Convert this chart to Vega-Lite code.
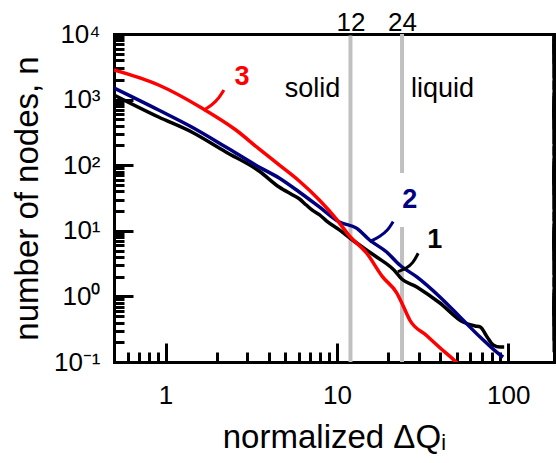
{
  "$schema": "https://vega.github.io/schema/vega-lite/v6.json",
  "width": 440,
  "height": 328,
  "autosize": "none",
  "padding": {"left": 114, "top": 34, "right": 2, "bottom": 101},
  "background": "white",
  "config": {
    "view": {"stroke": null},
    "font": "Liberation Sans",
    "axis": {
      "grid": false,
      "tickColor": "black",
      "tickWidth": 3,
      "domainColor": "black",
      "domainWidth": 3,
      "domainCap": "square",
      "labelFont": "Liberation Sans",
      "labelFontSize": 26,
      "labelColor": "black",
      "labelFlush": false,
      "labelOverlap": false,
      "labelBound": false,
      "titleFont": "Liberation Sans",
      "titleFontSize": 33,
      "titleFontWeight": "normal",
      "titleColor": "black"
    }
  },
  "datasets": {
    "curves": [
      {"s": "1", "x": 0.5, "y": 1175}, {"s": "1", "x": 0.91, "y": 543}, {"s": "1", "x": 1.42, "y": 321},
      {"s": "1", "x": 2.248, "y": 158.9}, {"s": "1", "x": 3.512, "y": 81.6}, {"s": "1", "x": 4.601, "y": 46.5},
      {"s": "1", "x": 5.483, "y": 35.5}, {"s": "1", "x": 6.028, "y": 30.8}, {"s": "1", "x": 6.625, "y": 24.7},
      {"s": "1", "x": 7.182, "y": 20.6}, {"s": "1", "x": 7.896, "y": 17.6}, {"s": "1", "x": 8.679, "y": 14.2},
      {"s": "1", "x": 10.34, "y": 10.3}, {"s": "1", "x": 12.33, "y": 7.24}, {"s": "1", "x": 14.89, "y": 5.1},
      {"s": "1", "x": 17.05, "y": 3.99}, {"s": "1", "x": 22.34, "y": 2.27}, {"s": "1", "x": 23.26, "y": 1.98},
      {"s": "1", "x": 29.27, "y": 1.39}, {"s": "1", "x": 39.93, "y": 0.793}, {"s": "1", "x": 54.47, "y": 0.407},
      {"s": "1", "x": 64.06, "y": 0.354}, {"s": "1", "x": 68.53, "y": 0.342}, {"s": "1", "x": 75.34, "y": 0.24},
      {"s": "1", "x": 81.66, "y": 0.182}, {"s": "1", "x": 89.8, "y": 0.169}, {"s": "1", "x": 94.7, "y": 0.169},
      {"s": "2", "x": 0.5, "y": 1502}, {"s": "2", "x": 0.91, "y": 694}, {"s": "2", "x": 1.42, "y": 382},
      {"s": "2", "x": 2.248, "y": 189.4}, {"s": "2", "x": 3.512, "y": 93.9}, {"s": "2", "x": 4.601, "y": 63.8},
      {"s": "2", "x": 6.028, "y": 39.0}, {"s": "2", "x": 7.896, "y": 23.1}, {"s": "2", "x": 10.34, "y": 13.6},
      {"s": "2", "x": 13.01, "y": 11.0}, {"s": "2", "x": 15.51, "y": 7.24}, {"s": "2", "x": 19.51, "y": 4.75},
      {"s": "2", "x": 23.26, "y": 3.01}, {"s": "2", "x": 29.27, "y": 1.98}, {"s": "2", "x": 39.93, "y": 0.979},
      {"s": "2", "x": 52.31, "y": 0.485}, {"s": "2", "x": 68.53, "y": 0.24}, {"s": "2", "x": 89.8, "y": 0.128},
      {"s": "2", "x": 93.5, "y": 0.119},
      {"s": "3", "x": 0.5, "y": 2827}, {"s": "3", "x": 0.91, "y": 1670}, {"s": "3", "x": 1.626, "y": 745},
      {"s": "3", "x": 2.574, "y": 344}, {"s": "3", "x": 3.512, "y": 177}, {"s": "3", "x": 4.601, "y": 101},
      {"s": "3", "x": 6.028, "y": 57.4}, {"s": "3", "x": 7.896, "y": 29.5}, {"s": "3", "x": 9.933, "y": 15.1},
      {"s": "3", "x": 11.84, "y": 8.33}, {"s": "3", "x": 14.89, "y": 4.59}, {"s": "3", "x": 18.49, "y": 1.98},
      {"s": "3", "x": 22.34, "y": 1.13}, {"s": "3", "x": 24.23, "y": 0.74}, {"s": "3", "x": 26.62, "y": 0.437},
      {"s": "3", "x": 33.49, "y": 0.252}, {"s": "3", "x": 39.93, "y": 0.165}, {"s": "3", "x": 50.23, "y": 0.0966},
      {"s": "3", "x": 55.96, "y": 0.0704}
    ],
    "leaders": [
      {"s": "3", "x": 1.671, "y": 694}, {"s": "3", "x": 1.868, "y": 828}, {"s": "3", "x": 2.046, "y": 1047}, {"s": "3", "x": 2.189, "y": 1401},
      {"s": "2", "x": 15.5, "y": 6.82}, {"s": "2", "x": 17.8, "y": 8.13}, {"s": "2", "x": 19.9, "y": 10.3}, {"s": "2", "x": 21.3, "y": 13.8},
      {"s": "1", "x": 22.7, "y": 2.38}, {"s": "1", "x": 25.5, "y": 2.68}, {"s": "1", "x": 27.8, "y": 3.2}, {"s": "1", "x": 29.8, "y": 4.54}
    ],
    "numlabels": [
      {"s": "3", "x": 2.79, "y": 2213},
      {"s": "2", "x": 26.6, "y": 29.5},
      {"s": "1", "x": 37.3, "y": 7.24}
    ],
    "phases": [
      {"t": "solid", "x": 7.2, "y": 1084},
      {"t": "liquid", "x": 41.3, "y": 1084}
    ],
    "rules": [
      {"x": 12, "y": 0.1, "y2": 10000},
      {"x": 24, "y": 76, "y2": 10000},
      {"x": 24, "y": 0.1, "y2": 11.4}
    ],
    "xticks": [
      {"v": 0.6, "m": "minor"}, {"v": 0.7, "m": "minor"}, {"v": 0.8, "m": "minor"}, {"v": 0.9, "m": "minor"},
      {"v": 1, "m": "major"},
      {"v": 2, "m": "minor"}, {"v": 3, "m": "minor"}, {"v": 4, "m": "minor"}, {"v": 5, "m": "minor"},
      {"v": 6, "m": "minor"}, {"v": 7, "m": "minor"}, {"v": 8, "m": "minor"}, {"v": 9, "m": "minor"},
      {"v": 10, "m": "major"},
      {"v": 20, "m": "minor"}, {"v": 30, "m": "minor"}, {"v": 40, "m": "minor"}, {"v": 50, "m": "minor"},
      {"v": 60, "m": "minor"}, {"v": 70, "m": "minor"}, {"v": 80, "m": "minor"}, {"v": 90, "m": "minor"},
      {"v": 100, "m": "major"}
    ],
    "yticks": [
      {"v": 0.2, "m": "minor"}, {"v": 0.3, "m": "minor"}, {"v": 0.4, "m": "minor"}, {"v": 0.5, "m": "minor"},
      {"v": 0.6, "m": "minor"}, {"v": 0.7, "m": "minor"}, {"v": 0.8, "m": "minor"}, {"v": 0.9, "m": "minor"},
      {"v": 1, "m": "major"},
      {"v": 2, "m": "minor"}, {"v": 3, "m": "minor"}, {"v": 4, "m": "minor"}, {"v": 5, "m": "minor"},
      {"v": 6, "m": "minor"}, {"v": 7, "m": "minor"}, {"v": 8, "m": "minor"}, {"v": 9, "m": "minor"},
      {"v": 10, "m": "major"},
      {"v": 20, "m": "minor"}, {"v": 30, "m": "minor"}, {"v": 40, "m": "minor"}, {"v": 50, "m": "minor"},
      {"v": 60, "m": "minor"}, {"v": 70, "m": "minor"}, {"v": 80, "m": "minor"}, {"v": 90, "m": "minor"},
      {"v": 100, "m": "major"},
      {"v": 200, "m": "minor"}, {"v": 300, "m": "minor"}, {"v": 400, "m": "minor"}, {"v": 500, "m": "minor"},
      {"v": 600, "m": "minor"}, {"v": 700, "m": "minor"}, {"v": 800, "m": "minor"}, {"v": 900, "m": "minor"},
      {"v": 1000, "m": "major"},
      {"v": 2000, "m": "minor"}, {"v": 3000, "m": "minor"}, {"v": 4000, "m": "minor"}, {"v": 5000, "m": "minor"},
      {"v": 6000, "m": "minor"}, {"v": 7000, "m": "minor"}, {"v": 8000, "m": "minor"}, {"v": 9000, "m": "minor"}
    ]
  },
  "resolve": {"axis": {"x": "independent", "y": "independent"}},
  "layer": [
    {
      "data": {"name": "rules"},
      "transform": [{"filter": "datum.x < 18"}],
      "mark": {"type": "rule", "color": "#c0c0c0", "strokeWidth": 4},
      "encoding": {
        "x": {"field": "x", "type": "quantitative",
              "scale": {"type": "log", "domain": [0.5, 185], "nice": false},
              "axis": {"orient": "bottom", "values": [1, 10, 100], "offset": -19, "tickSize": 19,
                       "domain": false, "labels": false, "title": null}},
        "y": {"field": "y", "type": "quantitative",
              "scale": {"type": "log", "domain": [0.1, 10000], "nice": false},
              "axis": {"orient": "left", "values": [0.1, 1, 10, 100, 1000, 10000], "offset": -19, "tickSize": 19,
                       "domain": false, "labels": false, "title": null}},
        "y2": {"field": "y2"}
      }
    },
    {
      "data": {"name": "rules"},
      "transform": [{"filter": "datum.x > 18"}],
      "mark": {"type": "rule", "color": "#c0c0c0", "strokeWidth": 4},
      "encoding": {
        "x": {"field": "x", "type": "quantitative",
              "scale": {"type": "log", "domain": [0.5, 185], "nice": false},
              "axis": {"orient": "bottom", "values": [0.6, 0.7, 0.8, 0.9, 2, 3, 4, 5, 6, 7, 8, 9, 20, 30, 40, 50, 60, 70, 80, 90],
                       "offset": -10, "tickSize": 10, "domain": false, "labels": false, "title": null}},
        "y": {"field": "y", "type": "quantitative",
              "scale": {"type": "log", "domain": [0.1, 10000], "nice": false},
              "axis": {"orient": "left", "values": [0.2, 0.3, 0.4, 0.5, 0.6, 0.7, 0.8, 0.9, 2, 3, 4, 5, 6, 7, 8, 9, 20, 30, 40, 50, 60, 70, 80, 90, 200, 300, 400, 500, 600, 700, 800, 900, 2000, 3000, 4000, 5000, 6000, 7000, 8000, 9000],
                       "offset": -10, "tickSize": 10, "domain": false, "labels": false, "title": null}},
        "y2": {"field": "y2"}
      }
    },
    {
      "data": {"name": "xticks"},
      "mark": {"type": "tick", "orient": "horizontal", "color": "black", "thickness": 3, "opacity": 1, "clip": true},
      "encoding": {
        "x": {"field": "v", "type": "quantitative",
              "scale": {"type": "log", "domain": [0.5, 185], "nice": false}, "axis": null},
        "y": {"datum": 10000, "type": "quantitative",
              "scale": {"type": "log", "domain": [0.1, 10000], "nice": false}, "axis": null},
        "size": {"field": "m", "type": "nominal", "scale": {"domain": ["major", "minor"], "range": [38, 20]}, "legend": null}
      }
    },
    {
      "data": {"name": "yticks"},
      "mark": {"type": "tick", "orient": "vertical", "color": "black", "thickness": 3, "opacity": 1, "clip": true},
      "encoding": {
        "x": {"datum": 185, "type": "quantitative",
              "scale": {"type": "log", "domain": [0.5, 185], "nice": false}, "axis": null},
        "y": {"field": "v", "type": "quantitative",
              "scale": {"type": "log", "domain": [0.1, 10000], "nice": false}, "axis": null},
        "size": {"field": "m", "type": "nominal", "legend": null}
      }
    },
    {
      "data": {"name": "curves"},
      "mark": {"type": "line", "strokeWidth": 3.5, "clip": true, "interpolate": "monotone"},
      "encoding": {
        "x": {"field": "x", "type": "quantitative",
              "scale": {"type": "log", "domain": [0.5, 185], "nice": false},
              "axis": {"orient": "bottom", "values": [1, 10, 100], "ticks": false, "domain": true,
                       "labelExpr": "datum.value < 5 ? '1' : datum.value < 50 ? '10' : '100'",
                       "labelPadding": 20, "labelBaseline": "top",
                       "title": "normalized ΔQᵢ", "titleBaseline": "alphabetic", "titleY": 85}},
        "y": {"field": "y", "type": "quantitative",
              "scale": {"type": "log", "domain": [0.1, 10000], "nice": false},
              "axis": {"orient": "left", "values": [0.1, 1, 10, 100, 1000, 10000], "ticks": false, "domain": true,
                       "labelExpr": "datum.value < 0.5 ? '10⁻¹' : datum.value < 5 ? '10⁰' : datum.value < 50 ? '10¹' : datum.value < 500 ? '10²' : datum.value < 5000 ? '10³' : '10⁴'",
                       "labelPadding": 14, "labelAlign": "right", "labelBaseline": "middle",
                       "title": "number of nodes, n", "titleBaseline": "alphabetic", "titleX": -77}},
        "color": {"field": "s", "type": "nominal",
                  "scale": {"domain": ["1", "2", "3"], "range": ["#000000", "#000080", "#ff0000"]},
                  "legend": null}
      }
    },
    {
      "data": {"name": "leaders"},
      "mark": {"type": "line", "strokeWidth": 3, "interpolate": "basis"},
      "encoding": {
        "x": {"field": "x", "type": "quantitative",
              "scale": {"type": "log", "domain": [0.5, 185], "nice": false}, "axis": null},
        "y": {"field": "y", "type": "quantitative",
              "scale": {"type": "log", "domain": [0.1, 10000], "nice": false}, "axis": null},
        "color": {"field": "s", "type": "nominal", "legend": null}
      }
    },
    {
      "data": {"name": "numlabels"},
      "mark": {"type": "text", "font": "Liberation Sans", "fontSize": 27, "fontWeight": "bold", "align": "center", "baseline": "middle"},
      "encoding": {
        "x": {"field": "x", "type": "quantitative",
              "scale": {"type": "log", "domain": [0.5, 185], "nice": false}, "axis": null},
        "y": {"field": "y", "type": "quantitative",
              "scale": {"type": "log", "domain": [0.1, 10000], "nice": false}, "axis": null},
        "text": {"field": "s"},
        "color": {"field": "s", "type": "nominal", "legend": null}
      }
    },
    {
      "data": {"name": "phases"},
      "mark": {"type": "text", "font": "Liberation Sans", "fontSize": 27, "color": "black", "align": "center", "baseline": "alphabetic"},
      "encoding": {
        "x": {"field": "x", "type": "quantitative",
              "scale": {"type": "log", "domain": [0.5, 185], "nice": false},
              "axis": {"orient": "top", "values": [12, 24], "ticks": false, "domain": true,
                       "labelExpr": "datum.value < 18 ? '12' : '24'", "labelPadding": 4, "labelBaseline": "alphabetic", "title": null}},
        "y": {"field": "y", "type": "quantitative",
              "scale": {"type": "log", "domain": [0.1, 10000], "nice": false},
              "axis": {"orient": "right", "values": [1], "ticks": false, "domain": true, "labels": false, "title": null}},
        "text": {"field": "t"}
      }
    }
  ]
}
